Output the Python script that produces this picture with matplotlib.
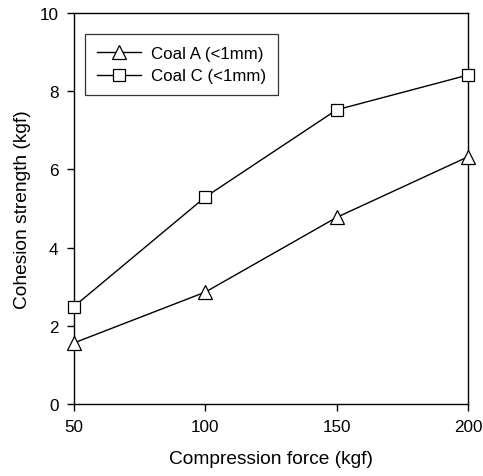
import matplotlib
matplotlib.use("Agg")
import matplotlib.pyplot as plt

plt.rcParams['font.family'] = ['Liberation Sans', 'DejaVu Sans']

compression = [50, 100, 150, 200]
coal_a = [1.56, 2.86, 4.77, 6.32]
coal_c = [2.49, 5.29, 7.52, 8.41]
xticks = [50, 100, 150, 200]
yticks = [0, 2, 4, 6, 8, 10]

fig = plt.figure(figsize=(4.83, 4.77), dpi=100)
ax = fig.add_axes([0.153, 0.151, 0.816, 0.820])

ax.plot(compression, coal_a, color='black', lw=1.0, marker='^', markersize=10,
        markerfacecolor='white', markeredgecolor='black', markeredgewidth=0.9,
        label='Coal A (<1mm)', clip_on=False, zorder=3)
ax.plot(compression, coal_c, color='black', lw=1.0, marker='s', markersize=9,
        markerfacecolor='white', markeredgecolor='black', markeredgewidth=0.9,
        label='Coal C (<1mm)', clip_on=False, zorder=3)

ax.set_xlim(50, 200)
ax.set_ylim(0, 10)
ax.set_xticks(xticks)
ax.set_yticks(yticks)
ax.tick_params(direction='out', length=5, width=1, labelsize=12.3, pad=6)
for s in ax.spines.values():
    s.set_linewidth(1.0)

ax.set_xlabel('Compression force (kgf)', fontsize=13.8, labelpad=11)
ax.set_ylabel('Cohesion strength (kgf)', fontsize=13.8, labelpad=6)

leg = ax.legend(loc='upper left', bbox_to_anchor=(0.028, 0.946), borderaxespad=0,
                fontsize=12.2, frameon=True, fancybox=False, edgecolor='black',
                handlelength=2.6, borderpad=0.7, labelspacing=0.45, handletextpad=0.6)
leg.get_frame().set_linewidth(0.9)

fig.savefig('out.png', dpi=100)
